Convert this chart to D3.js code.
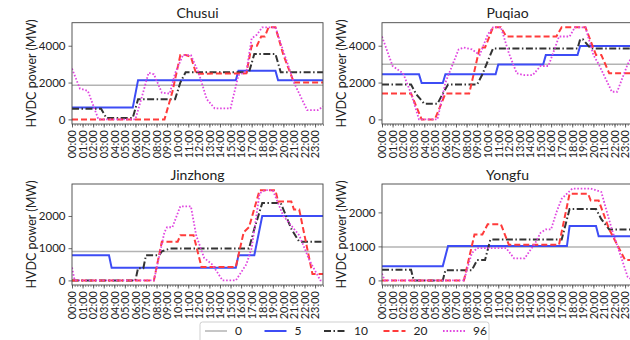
<!DOCTYPE html>
<html><head><meta charset="utf-8">
<script src="https://cdn.jsdelivr.net/npm/d3@7"></script>
<style>
body{margin:0;background:#fff;}
svg text{font-family:Lato,"Noto Sans",sans-serif;fill:#222;font-weight:400;}
</style></head>
<body><svg id="c" width="630" height="340"></svg>
<script>
// ---- data (hour of day, MW) ----
const seriesNames = ["0","5","10","20","96"];
const hourTicks = d3.range(0,24);
const tickLabels = hourTicks.map(h => String(h).padStart(2,"0")+":00");

const chusui_0 = [[0,1850],[23.75,1850]];
const chusui_5 = [[0,640],[5.75,640],[6.25,2130],[15.5,2130],[15.75,2640],[19.25,2640],[19.5,2130],[23.75,2130]];
const chusui_10 = [[0,580],[2.75,580],[3.25,80],[5.75,80],[6.25,1090],[9.75,1090],[10.25,2000],[10.75,2560],[16.75,2560],[17.25,3550],[19.25,3550],[19.75,2560],[23.75,2560]];
const chusui_20 = [[0,0],[8.75,0],[9.5,1500],[10.25,3490],[10.75,3490],[11.25,3400],[11.75,2480],[16.5,2500],[17.0,4000],[17.5,4000],[17.9,4500],[18.25,4500],[18.6,5000],[19.25,5000],[20.0,3500],[21.0,2000],[23.75,2000]];
const chusui_96 = [[0,2760],[0.75,1670],[1.5,1550],[2.5,0],[6.0,0],[6.5,1000],[7.25,2530],[7.75,2450],[8.5,1450],[9.25,1400],[9.75,2500],[10.5,3490],[11.25,3490],[12.0,2500],[12.75,1100],[13.5,600],[15.0,600],[15.75,2400],[16.5,2600],[17.0,4400],[17.5,4600],[18.0,5000],[19.25,5000],[20.0,3700],[21.0,2000],[22.25,500],[23.25,500],[23.75,700]];

const puqiao_0 = [[0,3000],[23.75,3000]];
const puqiao_5 = [[0,2450],[3.5,2450],[3.75,1980],[5.75,1980],[6.0,2450],[10.75,2450],[11.0,2980],[15.25,2980],[15.5,3490],[18.5,3490],[18.75,3980],[23.75,3980]];
const puqiao_10 = [[0,1890],[2.75,1890],[3.25,1360],[4.0,850],[5.25,850],[5.75,1400],[6.25,1890],[9.0,1890],[9.5,2450],[10.5,3850],[18.5,3850],[18.75,4350],[19.0,4350],[19.75,3850],[23.75,3850]];
const puqiao_20 = [[0,1400],[2.75,1400],[3.75,0],[5.0,0],[6.0,1400],[8.25,1400],[9.25,3900],[9.75,3900],[10.5,5000],[11.25,5000],[11.75,4500],[16.5,4500],[17.0,5000],[19.25,5000],[20.25,3500],[20.75,3500],[21.5,2500],[23.75,2500]];
const puqiao_96 = [[0,4500],[1.0,2900],[2.0,2500],[2.75,1400],[3.5,0],[5.25,0],[6.0,2000],[7.25,3800],[7.75,3900],[8.5,3800],[9.25,3500],[10.0,4600],[10.5,5000],[11.25,5000],[12.0,3600],[12.75,2500],[13.5,2400],[14.25,2400],[15.0,2900],[15.75,2900],[16.75,4500],[17.75,4500],[18.25,5000],[19.25,5000],[20.0,3500],[20.5,3000],[21.75,1500],[22.25,1500],[23.25,3000],[23.75,3500]];

const jinzhong_0 = [[0,900],[23.75,900]];
const jinzhong_5 = [[0,780],[3.5,780],[3.75,390],[15.5,390],[15.75,780],[17.25,780],[18.0,2000],[23.75,2000]];
const jinzhong_10 = [[0,0],[6.0,0],[6.25,380],[6.75,380],[7.0,780],[8.25,780],[8.5,900],[9.25,990],[16.75,990],[17.25,1600],[18.0,2400],[19.75,2400],[20.25,2000],[20.75,1600],[21.5,1200],[23.75,1200]];
const jinzhong_20 = [[0,0],[7.75,0],[8.5,1200],[10.0,1200],[10.25,1400],[11.5,1400],[12.25,420],[15.5,420],[16.25,1500],[16.75,1650],[17.75,2800],[19.25,2800],[19.5,2450],[20.75,2450],[21.0,2200],[21.5,2200],[22.75,200],[23.75,200]];
const jinzhong_96 = [[0,400],[0.25,0],[7.75,0],[8.75,1500],[9.0,1650],[9.5,1650],[10.25,2300],[11.25,2300],[11.75,1400],[12.5,700],[13.25,500],[14.25,0],[15.5,0],[16.5,500],[17.0,1000],[17.75,2700],[18.25,2800],[19.0,2800],[20.0,2000],[20.75,1700],[21.5,1400],[22.5,600],[23.5,0],[23.75,0]];

const yongfu_0 = [[0,980],[23.75,980]];
const yongfu_5 = [[0,420],[5.75,420],[6.25,1010],[17.5,1010],[17.75,1600],[20.25,1600],[20.5,1300],[23.75,1300]];
const yongfu_10 = [[0,310],[2.75,310],[3.0,0],[5.75,0],[6.0,300],[8.5,300],[9.0,600],[9.75,600],[10.25,1200],[17.0,1200],[17.75,2100],[20.25,2100],[20.75,1800],[21.5,1500],[23.75,1500]];
const yongfu_20 = [[0,0],[7.75,0],[8.75,1350],[9.5,1350],[10.0,1650],[11.25,1650],[12.0,1050],[16.75,1050],[17.75,2550],[19.5,2550],[19.75,2350],[20.5,2350],[21.5,1500],[23.0,600],[23.75,600]];
const yongfu_96 = [[0,200],[0.25,0],[7.75,0],[8.5,800],[9.0,950],[11.75,950],[12.5,650],[13.5,650],[14.5,1100],[15.0,1400],[15.5,1500],[16.0,1500],[16.5,2000],[17.0,2400],[18.0,2700],[19.75,2700],[20.75,2600],[21.75,1500],[23.25,100],[23.75,0]];

const panelTitles = ["Chusui","Puqiao","Jinzhong","Yongfu"];
const panelMax = [5000,5000,2850,2700];
const panelYTicks = [[0,2000,4000],[0,2000,4000],[0,1000,2000],[0,1000,2000]];
const panelData = [
  [chusui_0,chusui_5,chusui_10,chusui_20,chusui_96],
  [puqiao_0,puqiao_5,puqiao_10,puqiao_20,puqiao_96],
  [jinzhong_0,jinzhong_5,jinzhong_10,jinzhong_20,jinzhong_96],
  [yongfu_0,yongfu_5,yongfu_10,yongfu_20,yongfu_96]
];

// ---- styles ----
const styles = [
  {color:"#b3b3b3", width:1.5, dash:null},
  {color:"#3d4cf5", width:2, dash:null},
  {color:"#333333", width:2, dash:"7,2.5,1.5,2.5"},
  {color:"#ff3b3b", width:2, dash:"6,3"},
  {color:"#e046e0", width:1.8, dash:"1.6,1.8"}
];

const svg = d3.select("#c");
const layout = [
  {x:72, y:22.7, w:251, h:101.3},
  {x:382, y:22.7, w:251, h:101.3},
  {x:72, y:184, w:251, h:101},
  {x:382, y:184, w:251, h:101}
];

layout.forEach((L, p) => {
  const g = svg.append("g").attr("transform", `translate(${L.x},${L.y})`);
  const x = d3.scaleLinear().domain([0,23.75]).range([0,L.w]);
  const m = panelMax[p];
  const y = d3.scaleLinear().domain([-0.05*m, 1.05*m]).range([L.h,0]);

  const line = d3.line().x(d=>x(d[0])).y(d=>y(d[1]));
  const cp = "clip"+p;
  g.append("clipPath").attr("id",cp).append("rect").attr("width",L.w).attr("height",L.h);
  const lg = g.append("g").attr("clip-path",`url(#${cp})`);
  panelData[p].forEach((d,i) => {
    const s = styles[i];
    lg.append("path").datum(d).attr("d",line)
      .attr("fill","none").attr("stroke",s.color).attr("stroke-width",s.width)
      .attr("stroke-dasharray",s.dash);
  });

  g.append("rect").attr("width",L.w).attr("height",L.h)
    .attr("fill","none").attr("stroke","#444").attr("stroke-width",0.9);

  const xm = g.append("g").attr("transform",`translate(0,${L.h})`)
    .call(d3.axisBottom(x).tickValues(d3.range(0,96).map(i=>i*0.25)).tickSize(2).tickFormat(""));
  xm.select(".domain").remove();
  xm.selectAll("line").attr("stroke","#444").attr("stroke-width",0.6);
  const xa = g.append("g").attr("transform",`translate(0,${L.h})`)
    .call(d3.axisBottom(x).tickValues(hourTicks).tickSize(3.5).tickFormat((d,i)=>tickLabels[i]));
  xa.select(".domain").remove();
  xa.selectAll("line").attr("stroke","#444").attr("stroke-width",0.8);
  xa.selectAll("text")
    .attr("transform","rotate(-90)")
    .attr("x",-6).attr("y",0).attr("dy","0.35em")
    .style("text-anchor","end").style("font-size","11px")
    .style("font-family","Lato, sans-serif").attr("fill","#222");

  const ya = g.append("g").call(d3.axisLeft(y).tickValues(panelYTicks[p]).tickSize(3.5).tickPadding(3).tickFormat(d3.format("d")));
  ya.select(".domain").remove();
  ya.selectAll("line").attr("stroke","#444").attr("stroke-width",0.8);
  ya.selectAll("text").style("font-size","11.5px").style("font-family","Lato, sans-serif").attr("fill","#222");

  g.append("text").attr("x",L.w/2).attr("y",-4.5).attr("text-anchor","middle")
    .style("font-size","14px").text(panelTitles[p]);
  g.append("text").attr("transform",`translate(${-40},${L.h/2}) rotate(-90)`)
    .attr("text-anchor","middle").attr("dy","0.35em")
    .style("font-size","12.5px").text("HVDC power (MW)");
});

// legend
const lgd = svg.append("g");
lgd.append("rect").attr("x",200).attr("y",322).attr("width",289).attr("height",26).attr("rx",2.5)
  .attr("fill","#fff").attr("stroke","#cfcfcf").attr("stroke-width",1);
seriesNames.forEach((n,i) => {
  const x0 = 205 + i*59.5;
  const s = styles[i];
  lgd.append("line").attr("x1",x0).attr("x2",x0+22).attr("y1",331).attr("y2",331)
    .attr("stroke",s.color).attr("stroke-width",s.width).attr("stroke-dasharray",s.dash);
  lgd.append("text").attr("x",x0+30).attr("y",331).attr("dy","0.35em")
    .style("font-size","12px").text(n);
});
</script></body></html>
